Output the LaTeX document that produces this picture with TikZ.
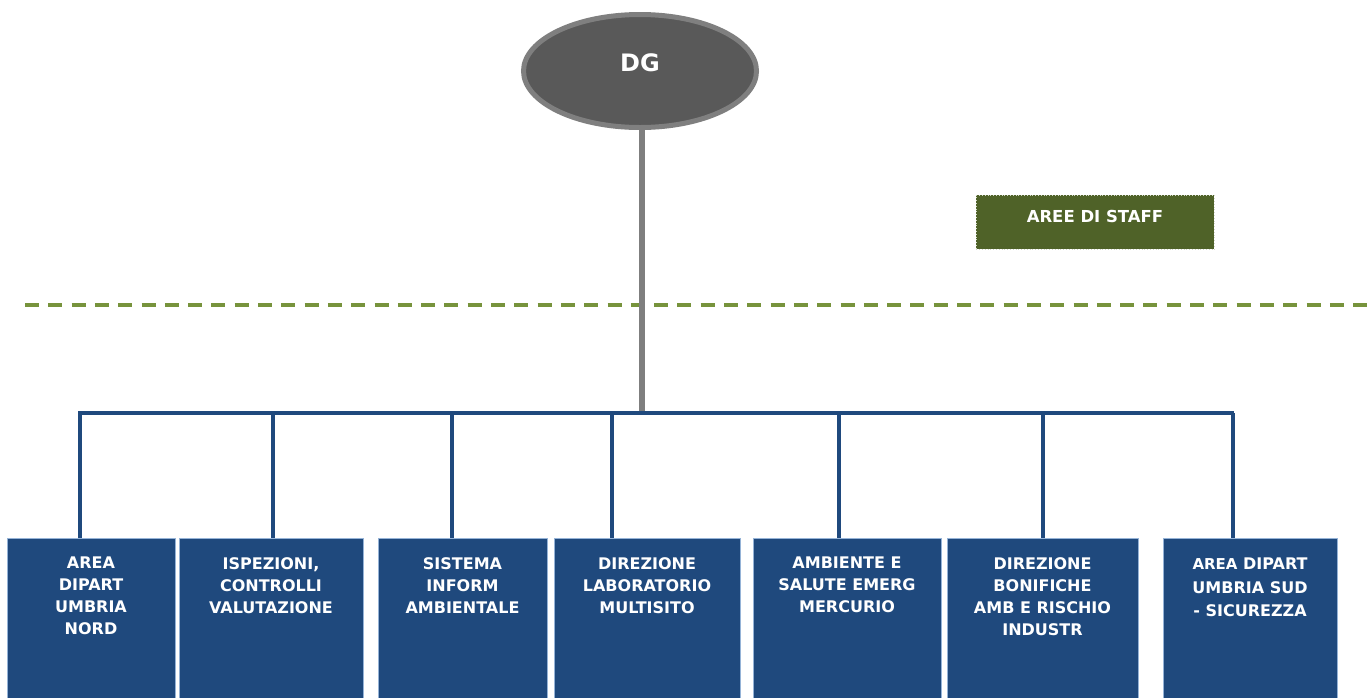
\documentclass[tikz,border=0pt]{standalone}
\usepackage{fontspec}
\setmainfont{DejaVu Sans}
\usetikzlibrary{shapes.geometric}
\definecolor{boxblue}{HTML}{1F497D}
\definecolor{boxedge}{HTML}{95B3D7}
\definecolor{dggray}{HTML}{595959}
\definecolor{dgedge}{HTML}{7F7F7F}
\definecolor{staffgreen}{HTML}{4F6228}
\definecolor{dashgreen}{HTML}{77933C}
\tikzset{
  unitbox/.style={rectangle, draw=boxedge, line width=0.8pt, fill=boxblue, inner sep=0pt, anchor=north west},
  unitlbl/.style={text=white, font=\bfseries\fontsize{16}{22}\selectfont, align=center, inner sep=0pt, anchor=north},
  link/.style={draw=boxblue, line width=4pt},
  trunk/.style={draw=dgedge, line width=6pt},
}
\begin{document}
\begin{tikzpicture}[x=1pt,y=-1pt]
\useasboundingbox (0,0) rectangle (1372,697);
% DG
\node[ellipse, draw=dgedge, line width=5pt, fill=dggray, minimum width=233pt, minimum height=113pt, inner sep=0pt] (DG) at (640,71) {};
\node[text=white, font=\bfseries\fontsize{24}{28}\selectfont, anchor=base, inner sep=0pt] (DGt) at (640,71) {DG};
% staff
\node[rectangle, draw=white!75!staffgreen, dotted, line width=0.8pt, fill=staffgreen, minimum width=238pt, minimum height=54pt, inner sep=0pt, anchor=north west] (staff) at (976,195) {};
\node[text=white, font=\bfseries\fontsize{16.5}{20}\selectfont, anchor=base, inner sep=0pt] (stafft) at (1095,222.5) {AREE DI STAFF};
% dashed separator
\coordinate (dl) at (25,305);
\coordinate (dr) at (1372,305);
\draw[dashgreen, line width=3.5pt, dash pattern=on 14pt off 9.3pt] (dl) -- (dr);
% hub and bar
\coordinate (hub) at (642,413);
\coordinate (barL) at (78,413);
\coordinate (barR) at (1234,413);
\draw[trunk] (DG.south -| hub) -- (hub);
\draw[link] (barL) -- (barR);
% boxes
\node[unitbox, minimum width=168pt, minimum height=180pt] (b1) at (7,538) {};
\node[unitbox, minimum width=184pt, minimum height=180pt] (b2) at (179,538) {};
\node[unitbox, minimum width=169pt, minimum height=180pt] (b3) at (378,538) {};
\node[unitbox, minimum width=186pt, minimum height=180pt] (b4) at (554,538) {};
\node[unitbox, minimum width=188pt, minimum height=180pt] (b5) at (753,538) {};
\node[unitbox, minimum width=191pt, minimum height=180pt] (b6) at (947,538) {};
\node[unitbox, minimum width=174pt, minimum height=180pt] (b7) at (1163,538) {};
% connectors
\foreach \b/\x in {b1/80,b2/273,b3/452,b4/612,b5/839,b6/1043,b7/1233}{
  \coordinate (top\b) at (\x,413);
  \draw[link] (top\b) -- (top\b |- \b.north);
}
% labels
\node[unitlbl] (t1) at (91,557) {AREA\\DIPART\\UMBRIA\\NORD};
\node[unitlbl] (t2) at (271,557) {ISPEZIONI,\\CONTROLLI\\VALUTAZIONE};
\node[unitlbl] (t3) at (462.5,557) {SISTEMA\\INFORM\\AMBIENTALE};
\node[unitlbl] (t4) at (647,557) {DIREZIONE\\LABORATORIO\\MULTISITO};
\node[unitlbl] (t5) at (847,557) {AMBIENTE E\\SALUTE EMERG\\MERCURIO};
\node[unitlbl] (t6) at (1042.5,557) {DIREZIONE\\BONIFICHE\\AMB E RISCHIO\\INDUSTR};
\node[unitlbl, font=\bfseries\fontsize{16}{23.5}\selectfont] (t7) at (1250,558) {{\fontsize{15}{23.5}\selectfont AREA} DIPART\\UMBRIA SUD\\- SICUREZZA};
\end{tikzpicture}
\end{document}
